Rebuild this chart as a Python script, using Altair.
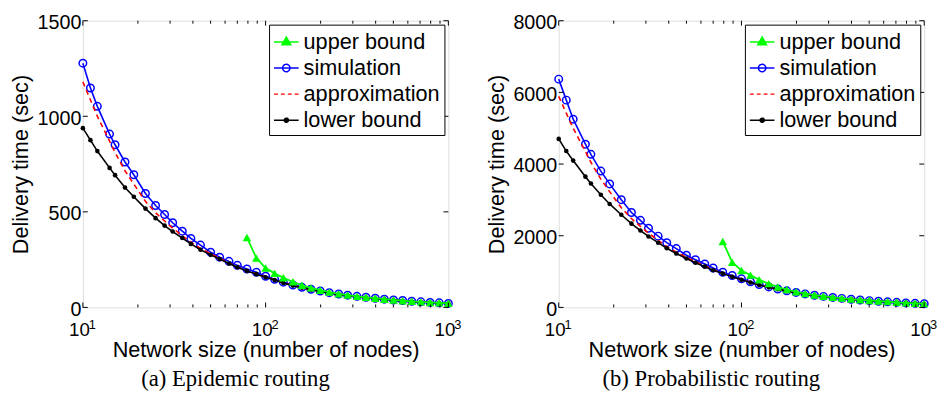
import altair as alt
import pandas as pd

# Network sizes (x samples, 20 per decade)
N = [10, 11, 12, 14, 15, 17, 19, 22, 25, 28, 31, 35, 39, 44, 50, 56, 63, 70, 79, 89,
     100, 112, 125, 141, 158, 177, 199, 223, 251, 281, 316, 354, 398, 446, 501, 562,
     630, 707, 794, 891, 1000]
N_UPPER = [79, 89, 100, 112, 125, 141, 158, 177, 199, 223, 251, 281, 316, 354, 398,
           446, 501, 562, 630, 707, 794, 891, 1000]

# (a) Epidemic routing
EPI_SIM = [1278, 1148, 1052, 907, 851, 761, 694, 596, 533, 486, 443, 399, 361, 326, 289,
           263, 241, 220, 201, 184, 163, 147, 132, 117, 105, 95, 86, 77, 70, 64, 58, 53,
           48, 43, 39, 36, 32, 29, 26, 24, 21]
EPI_APPROX = [1180, 1085, 1000, 870, 810, 715, 645, 555, 495, 452, 415, 375, 341, 309, 281,
              257, 233, 212, 193, 176, 160, 144, 129, 115, 104, 94, 85, 76, 69, 63, 57, 52,
              47, 43, 39, 35, 32, 29, 26, 24, 21]
EPI_LOWER = [938, 875, 818, 730, 692, 627, 579, 517, 467, 428, 397, 363, 332, 302, 275,
             253, 230, 210, 191, 174, 158, 143, 128, 114, 103, 93, 84, 75, 68, 62, 56, 51,
             46, 42, 38, 34, 31, 28, 25, 23, 21]
EPI_UPPER = [366, 258, 206, 178, 155, 134, 116, 102, 90, 80, 71, 64, 58, 53, 48, 43, 39,
             35, 32, 29, 26, 24, 22]

# (b) Probabilistic routing
PROB_SIM = [6370, 5784, 5252, 4555, 4271, 3804, 3446, 3006, 2649, 2429, 2209, 1989, 1806,
            1641, 1457, 1329, 1210, 1100, 981, 889, 797, 715, 640, 572, 515, 463, 418, 377,
            339, 308, 278, 252, 228, 208, 189, 172, 156, 141, 126, 114, 103]
PROB_APPROX = [5890, 5420, 5000, 4350, 4050, 3580, 3230, 2780, 2480, 2260, 2070, 1870, 1700,
               1540, 1400, 1275, 1160, 1060, 960, 870, 780, 700, 628, 563, 507, 457, 413,
               373, 336, 306, 276, 251, 227, 207, 189, 172, 156, 141, 126, 114, 103]
PROB_LOWER = [4702, 4363, 4097, 3648, 3456, 3144, 2887, 2585, 2337, 2145, 1980, 1806, 1650,
              1503, 1366, 1247, 1137, 1036, 944, 852, 770, 695, 625, 560, 505, 455, 412,
              372, 335, 305, 275, 250, 226, 206, 188, 171, 155, 140, 125, 113, 102]
PROB_UPPER = [1840, 1260, 1030, 900, 770, 665, 570, 500, 435, 388, 345, 313, 280, 258, 232,
              212, 193, 176, 160, 142, 126, 114, 104]

SERIES = ["upper bound", "simulation", "approximation", "lower bound"]
COLORS = ["#00ff00", "#0000ff", "#ff0000", "#000000"]

X_MAJOR = [10, 100, 1000]
X_EXP = ["1", "2", "3"]
X_MINOR = [20, 30, 40, 50, 60, 70, 80, 90, 200, 300, 400, 500, 600, 700, 800, 900]
EPI_YTICKS = [0, 500, 1000, 1500]
PROB_YTICKS = [0, 2000, 4000, 6000, 8000]

FONT = "Liberation Sans"
W, H = 371, 291

LEG_PATHS = [
    "M-1,0H1M0,-0.4L0.36,0.24L-0.36,0.24Z",
    "M-1,0H1M-0.3,0A0.3,0.3 0 1,0 0.3,0A0.3,0.3 0 1,0 -0.3,0",
    "M-1,0H1",
    "M-1,0H1M-0.17,0A0.17,0.17 0 1,0 0.17,0A0.17,0.17 0 1,0 -0.17,0",
]
LEG_FILLS = ["#00ff00", "transparent", "transparent", "#000000"]
LEG_DASH = [[1, 0], [1, 0], [4, 3], [1, 0]]


def panel(sim, approx, lower, upper, ymax, yticks, caption):
    x = alt.X(
        "n:Q",
        scale=alt.Scale(type="log", domain=[10, 1000]),
        axis=alt.Axis(
            values=X_MAJOR, labelExpr="'10'", labelOffset=-4,
            title="Network size (number of nodes)",
            ticks=False, domain=False, grid=False, labelFlush=False,
            labelFont=FONT, labelFontSize=19, labelPadding=14, labelColor="black",
            titleFont=FONT, titleFontSize=22, titleFontWeight="normal",
            titleColor="black", titlePadding=0,
        ),
    )
    y = alt.Y(
        "t:Q",
        scale=alt.Scale(domain=[0, ymax]),
        axis=alt.Axis(
            values=yticks, title="Delivery time (sec)", format="d",
            ticks=False, domain=False, grid=False, labelFlush=False,
            labelOffset=2,
            labelFont=FONT, labelFontSize=20, labelPadding=2, labelColor="black",
            titleFont=FONT, titleFontSize=22, titleFontWeight="normal",
            titleColor="black", titlePadding=5,
        ),
    )

    d_sim = pd.DataFrame({"n": N, "t": sim})
    d_apx = pd.DataFrame({"n": N, "t": approx})
    d_low = pd.DataFrame({"n": N, "t": lower})
    d_up = pd.DataFrame({"n": N_UPPER, "t": upper})

    sim_line = alt.Chart(d_sim).mark_line(color="#0000ff", strokeWidth=1.6).encode(x=x, y=y)
    sim_pts = alt.Chart(d_sim).mark_point(
        shape="circle", color="#0000ff", filled=False, size=58, strokeWidth=1.5, opacity=1
    ).encode(x=x, y=y)
    apx_line = alt.Chart(d_apx).mark_line(
        color="#ff0000", strokeWidth=1.6, strokeDash=[5, 4]
    ).encode(x=x, y=y)
    low_line = alt.Chart(d_low).mark_line(color="#000000", strokeWidth=1.6).encode(x=x, y=y)
    low_pts = alt.Chart(d_low).mark_point(
        shape="circle", color="#000000", filled=True, size=22, opacity=1
    ).encode(x=x, y=y)
    up_line = alt.Chart(d_up).mark_line(color="#00ff00", strokeWidth=1.8).encode(x=x, y=y)
    up_pts = alt.Chart(d_up).mark_point(
        shape="triangle-up", color="#00ff00", filled=True, size=75, opacity=1
    ).encode(x=x, y=y)

    # superscript exponents of the 10^k tick labels
    exp_df = pd.DataFrame({"n": X_MAJOR, "e": X_EXP})
    exps = alt.Chart(exp_df).mark_text(
        align="left", baseline="top", dx=6, font=FONT, fontSize=13, color="black"
    ).encode(x=x, y=alt.value(H + 12), text="e:N")

    legend = alt.Legend(
        title=None, orient="top-right", offset=4, fillColor="white",
        strokeColor="black", padding=4, symbolSize=625, symbolStrokeWidth=1.5,
        labelFont=FONT, labelFontSize=22, labelColor="black", rowPadding=1.5,
        labelOffset=4, symbolOpacity=1,
    )
    leg_df = pd.DataFrame({"series": SERIES, "n": [100] * 4, "t": [0] * 4})
    leg = alt.Chart(leg_df).transform_filter("false").mark_point(
        opacity=1, strokeWidth=1.5
    ).encode(
        x=x, y=y,
        color=alt.Color("series:N", scale=alt.Scale(domain=SERIES, range=COLORS), legend=legend),
        shape=alt.Shape("series:N", scale=alt.Scale(domain=SERIES, range=LEG_PATHS), legend=legend),
        fill=alt.Fill("series:N", scale=alt.Scale(domain=SERIES, range=LEG_FILLS), legend=legend),
        strokeDash=alt.StrokeDash("series:N", scale=alt.Scale(domain=SERIES, range=LEG_DASH), legend=legend),
    )

    # inward ticks (MATLAB style box)
    xmaj = pd.DataFrame({"n": X_MAJOR})
    xmin = pd.DataFrame({"n": X_MINOR})
    yt = pd.DataFrame({"t": yticks})
    tk = dict(color="black", strokeWidth=1)
    ticks = [
        alt.Chart(xmaj).mark_rule(**tk).encode(x=x, y=alt.value(H), y2=alt.value(H - 5)),
        alt.Chart(xmaj).mark_rule(**tk).encode(x=x, y=alt.value(0), y2=alt.value(5)),
        alt.Chart(xmin).mark_rule(**tk).encode(x=x, y=alt.value(H), y2=alt.value(H - 3)),
        alt.Chart(xmin).mark_rule(**tk).encode(x=x, y=alt.value(0), y2=alt.value(3)),
        alt.Chart(yt).mark_rule(**tk).encode(y=y, x=alt.value(0), x2=alt.value(5)),
        alt.Chart(yt).mark_rule(**tk).encode(y=y, x=alt.value(W - 5), x2=alt.value(W)),
    ]

    return alt.layer(
        sim_line, sim_pts, apx_line, low_line, low_pts, up_line, up_pts, exps, leg, *ticks
    ).properties(
        width=W, height=H,
        title=alt.TitleParams(
            caption, orient="bottom", anchor="middle", frame="bounds",
            font="Liberation Serif", fontSize=23, fontWeight="normal",
            color="black", offset=8,
        ),
    )


left = panel(EPI_SIM, EPI_APPROX, EPI_LOWER, EPI_UPPER, 1500, EPI_YTICKS,
             "(a)  Epidemic routing")
right = panel(PROB_SIM, PROB_APPROX, PROB_LOWER, PROB_UPPER, 8000, PROB_YTICKS,
              "(b)  Probabilistic routing")

chart = alt.hconcat(left, right, spacing=23).resolve_scale(
    color="independent", shape="independent", fill="independent",
    strokeDash="independent",
).resolve_legend(
    color="independent", shape="independent", fill="independent",
    strokeDash="independent",
).properties(
    padding={"left": 1, "top": 1, "right": 0, "bottom": 0}
).configure_view(stroke="black", strokeWidth=1.2).configure(background="white")

chart.save("out.html", embed_options={"renderer": "svg", "actions": False})
